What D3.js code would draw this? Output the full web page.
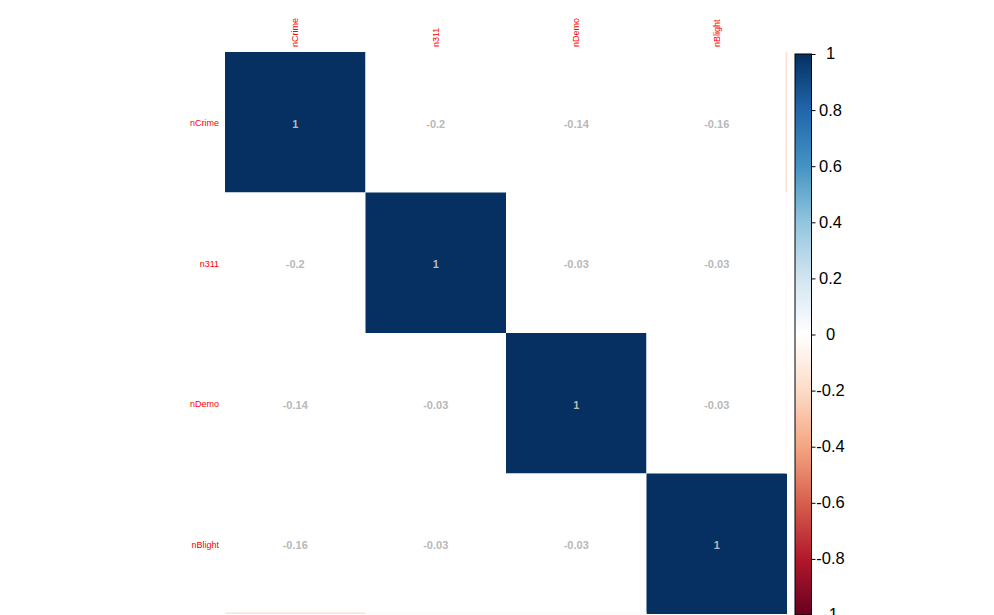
<!DOCTYPE html>
<html>
<head>
<meta charset="utf-8">
<script src="https://cdn.jsdelivr.net/npm/d3@7"></script>
<style>
html,body{margin:0;padding:0;background:#fff;}
svg{display:block;}
</style>
</head>
<body>
<svg id="chart" width="994" height="615"></svg>
<script>
const variables = ["nCrime", "n311", "nDemo", "nBlight"];
const corrValues = [
  [1, -0.2, -0.14, -0.16],
  [-0.2, 1, -0.03, -0.03],
  [-0.14, -0.03, 1, -0.03],
  [-0.16, -0.03, -0.03, 1]
];
const legendTicks = [-1, -0.8, -0.6, -0.4, -0.2, 0, 0.2, 0.4, 0.6, 0.8, 1];
const paletteStops = ["#67001F", "#B2182B", "#D6604D", "#F4A582", "#FDDBC7", "#FFFFFF", "#D1E5F0", "#92C5DE", "#4393C3", "#2166AC", "#053061"];

const svg = d3.select("#chart");
const gx0 = 225, gx1 = 787, gy0 = 52, gy1 = 614;

const x = d3.scaleBand().domain(variables).range([gx0, gx1]);
const y = d3.scaleBand().domain(variables).range([gy0, gy1]);

const color = d3.scaleLinear()
  .domain(d3.range(paletteStops.length).map(i => -1 + 2 * i / (paletteStops.length - 1)))
  .range(paletteStops)
  .interpolate(d3.interpolateRgb);

const cells = [];
corrValues.forEach((row, i) => row.forEach((v, j) => cells.push({r: variables[i], c: variables[j], i, j, v})));

// cells
svg.append("g").selectAll("rect").data(cells).join("rect")
  .attr("x", d => x(d.c))
  .attr("y", d => y(d.r))
  .attr("width", x.bandwidth())
  .attr("height", y.bandwidth())
  .attr("fill", d => d.i === d.j ? color(d.v) : "#ffffff");

// faint edge strips on outer right column / bottom row
svg.append("g").selectAll("rect").data(cells.filter(d => d.i !== d.j && d.j === variables.length - 1)).join("rect")
  .attr("x", d => x(d.c) + x.bandwidth() - 1.5)
  .attr("y", d => y(d.r))
  .attr("width", 1.5)
  .attr("height", y.bandwidth())
  .attr("fill", d => color(d.v));
svg.append("g").selectAll("rect").data(cells.filter(d => d.i !== d.j && d.i === variables.length - 1)).join("rect")
  .attr("x", d => x(d.c))
  .attr("y", d => y(d.r) + y.bandwidth() - 1.5)
  .attr("width", x.bandwidth())
  .attr("height", 1.5)
  .attr("fill", d => color(d.v));

// numbers
svg.append("g").selectAll("text").data(cells).join("text")
  .attr("x", d => x(d.c) + x.bandwidth() / 2)
  .attr("y", d => y(d.r) + y.bandwidth() / 2 + 1.5)
  .attr("dy", "0.35em")
  .attr("text-anchor", "middle")
  .attr("font-family", "Liberation Sans, Arial, sans-serif")
  .attr("font-size", 11)
  .attr("font-weight", "bold")
  .attr("fill", "#B8B8B8")
  .text(d => d.v);

// row labels
svg.append("g").selectAll("text").data(variables).join("text")
  .attr("x", gx0 - 6)
  .attr("y", d => y(d) + y.bandwidth() / 2 + 1)
  .attr("dy", "0.35em")
  .attr("text-anchor", "end")
  .attr("font-family", "Liberation Sans, Arial, sans-serif")
  .attr("font-size", 9)
  .attr("fill", "#FF0000")
  .text(d => d);

// column labels
svg.append("g").selectAll("text").data(variables).join("text")
  .attr("transform", d => `translate(${x(d) + x.bandwidth() / 2},${gy0 - 5}) rotate(-90)`)
  .attr("dy", "0.35em")
  .attr("text-anchor", "start")
  .attr("font-family", "Liberation Sans, Arial, sans-serif")
  .attr("font-size", 9)
  .attr("fill", "#FF0000")
  .text(d => d);

// colorbar
const cbX = 795, cbW = 16.5, cbY0 = 54, cbY1 = 615;
const cy = d3.scaleLinear().domain([-1, 1]).range([cbY1, cbY0]);
const defs = svg.append("defs");
const grad = defs.append("linearGradient").attr("id", "cbgrad")
  .attr("x1", 0).attr("y1", 1).attr("x2", 0).attr("y2", 0);
d3.range(0, 201).forEach(k => {
  const v = -1 + 2 * k / 200;
  grad.append("stop").attr("offset", k / 200).attr("stop-color", color(v));
});
svg.append("rect")
  .attr("x", cbX).attr("y", cbY0)
  .attr("width", cbW).attr("height", cbY1 - cbY0)
  .attr("fill", "url(#cbgrad)")
  .attr("stroke", "#000").attr("stroke-width", 1);

const cbAxis = d3.axisRight(cy).tickValues(legendTicks).tickSize(4).tickSizeOuter(0)
  .tickFormat(d => String(+d.toFixed(1)));
const ag = svg.append("g").attr("transform", `translate(${cbX + cbW},0)`).call(cbAxis);
ag.select(".domain").remove();
ag.selectAll("line").attr("stroke", "#000");
ag.selectAll("text")
  .attr("x", 19)
  .attr("dy", "0.3em")
  .attr("text-anchor", "middle")
  .attr("font-family", "Liberation Sans, Arial, sans-serif")
  .attr("font-size", 16.5)
  .attr("fill", "#000");
</script>
</body>
</html>
